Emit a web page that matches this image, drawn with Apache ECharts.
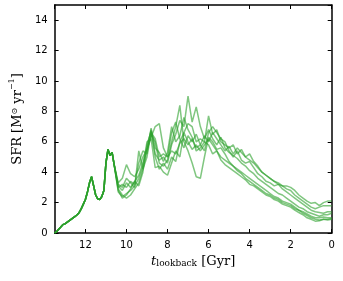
<!DOCTYPE html>
<html><head><meta charset="utf-8">
<script src="https://cdn.jsdelivr.net/npm/echarts@6/dist/echarts.min.js"></script>
<style>html,body{margin:0;padding:0;background:#fff}#c{width:343px;height:281px}</style>
</head><body><div id="c"></div>
<script>
var tEarly = [13.5,13.4,13.3,13.2,13.1,13.0,12.9,12.8,12.7,12.6,12.5,12.4,12.3,12.2,12.1,12.0,11.9,11.8,11.7,11.6,11.5,11.4,11.3,11.2,11.1,11.0,10.9,10.8,10.7,10.6];
var sfrEarly = [0,0.1,0.25,0.4,0.55,0.6,0.7,0.8,0.9,1.0,1.1,1.2,1.35,1.6,1.9,2.2,2.7,3.3,3.7,3.1,2.5,2.25,2.2,2.4,2.8,4.6,5.5,5.1,5.3,4.5];
var tLate = [10.4,10.2,10.0,9.8,9.6,9.4,9.2,9.0,8.8,8.6,8.4,8.2,8.0,7.8,7.6,7.4,7.2,7.0,6.8,6.6,6.4,6.2,6.0,5.8,5.6,5.4,5.2,5.0,4.8,4.6,4.4,4.2,4.0,3.8,3.6,3.4,3.2,3.0,2.8,2.6,2.4,2.2,2.0,1.8,1.6,1.4,1.2,1.0,0.8,0.6,0.4,0.2,0.0];
var sfrA = [3.1,2.8,3.3,3.0,3.4,3.8,4.6,5.6,6.8,5.2,4.8,5.0,4.6,5.8,6.5,7.4,7.0,9.0,7.3,8.3,7.0,6.2,6.8,6.2,5.8,6.3,5.6, 5.3,5.1,4.9,4.6,4.4,4.1,3.9,3.6,3.4,3.2,3.0,2.8,2.6,2.5,2.3,2.1,1.9,1.7,1.6,1.4,1.3,1.2,1.1,1.2,1.2,1.3];
var sfrB = [2.9,2.5,2.3,2.5,2.9,3.3,4.2,5.4,6.5,6.0,4.6,4.4,4.8,6.0,7.0,8.4,6.0,5.4,4.6,3.7,3.6,5.0,6.3,6.0,5.5,5.6,5.2, 4.7,4.4,4.1,3.9,3.6,3.4,3.2,3.0,2.8,2.6,2.5,2.3,2.2,2.0,1.9,1.8,1.6,1.5,1.3,1.15,1.0,0.9,0.85,0.9,0.9,0.95];
var sfrC = [3.3,3.6,4.5,3.9,3.7,4.2,5.0,5.5,6.3,7.0,7.2,5.6,5.0,5.4,5.2,5.9,6.2,5.8,6.2,5.6,5.8,6.4,6.0,6.6,6.2,5.8,5.4, 5.7,5.2,5.6,5.3,5.0,5.2,4.7,4.4,4.0,3.8,3.6,3.4,3.2,3.1,3.1,3.0,2.8,2.5,2.3,2.1,1.95,2.0,1.8,2.0,2.1,2.1];
var sfrD = [3.0,3.2,3.0,3.4,3.2,4.6,5.4,5.2,6.9,5.6,5.3,4.7,5.3,7.0,6.0,6.4,7.6,6.8,6.3,5.4,5.6,6.0,7.7,6.5,6.8,6.0,5.8, 5.6,5.8,5.2,5.5,5.0,4.8,4.6,4.3,4.0,3.8,3.6,3.4,3.3,3.1,2.9,2.8,2.5,2.3,2.1,1.9,1.7,1.6,1.7,1.8,1.8,1.8];
var sfrE = [2.7,2.4,2.6,2.8,3.1,3.6,4.4,6.0,6.2,4.3,4.4,4.0,3.8,4.6,5.4,5.0,6.6,6.0,5.5,5.8,5.4,5.8,6.2,5.8,5.4,5.0,4.8, 4.6,4.4,4.2,4.0,3.8,3.6,3.4,3.2,3.0,2.8,2.6,2.4,2.3,2.1,2.0,1.9,1.7,1.5,1.4,1.25,1.1,1.0,1.0,1.05,1.0,1.0];
var sfrF = [3.2,3.0,3.6,3.3,3.0,5.4,4.2,5.0,6.6,6.2,5.0,5.2,5.0,6.6,7.3,6.2,5.6,6.4,6.0,6.5,5.8,5.4,6.6,7.0,6.6,6.2,6.0, 5.4,5.0,5.4,4.8,4.6,4.7,4.3,3.9,3.7,3.4,3.3,3.1,3.2,2.9,2.7,2.5,2.3,2.1,1.9,1.7,1.5,1.4,1.35,1.3,1.4,1.4];
var sfrG = [2.8,2.3,2.5,2.9,3.4,3.1,4.0,5.8,6.7,5.0,4.2,4.6,4.2,5.0,4.7,6.0,6.6,7.2,7.0,6.0,6.2,6.0,5.8,5.2,5.4,4.8,4.5, 4.3,4.1,3.9,3.7,3.5,3.2,3.1,2.9,2.7,2.5,2.4,2.2,2.1,1.9,1.8,1.7,1.5,1.35,1.2,1.0,0.9,0.78,0.8,0.9,0.85,0.9];
var xTicks = [0,2,4,6,8,10,12];
var yTicks = [0,2,4,6,8,10,12,14];

var lateSets = [sfrA,sfrB,sfrC,sfrD,sfrE,sfrF,sfrG];
function build(late){
  var d = [];
  for (var i=0;i<tEarly.length;i++) d.push([tEarly[i], sfrEarly[i]]);
  for (var j=0;j<tLate.length;j++) d.push([tLate[j], late[j]]);
  return d;
}
var series = lateSets.map(function(s){
  return {type:'line', data:build(s), showSymbol:false, symbol:'none', xAxisIndex:0, yAxisIndex:0,
    lineStyle:{color:'rgba(44,160,44,0.6)', width:1.5}, animation:false};
});
var tickFont = {fontFamily:'DejaVu Sans', fontSize:10, color:'#000'};
var chart = echarts.init(document.getElementById('c'), null, {renderer:'canvas'});
chart.setOption({
  animation:false,
  grid:{left:47.7, right:11.3, top:5, bottom:48, containLabel:false},
  xAxis:[{
    type:'value', inverse:true, min:0, max:13.5, interval:2,
    name:'{t|t}{s|lookback}{n| [Gyr]}', nameLocation:'middle', nameGap:17,
    nameTextStyle:{rich:{
      t:{fontFamily:'DejaVu Serif', fontStyle:'italic', fontSize:13, color:'#000', verticalAlign:'bottom'},
      s:{fontFamily:'DejaVu Serif', fontSize:9, color:'#000', padding:[6,0,0,0], verticalAlign:'bottom'},
      n:{fontFamily:'DejaVu Serif', fontSize:13, color:'#000', verticalAlign:'bottom'}
    }},
    axisLine:{show:true, onZero:false, lineStyle:{color:'#000', width:1.5}},
    axisTick:{show:true, inside:true, length:4, lineStyle:{color:'#000'}},
    axisLabel:Object.assign({margin:7, showMaxLabel:false, formatter:function(v){return xTicks.indexOf(v)>=0?String(v):'';}}, tickFont),
    splitLine:{show:false}
  },{
    type:'value', inverse:true, min:0, max:13.5, interval:2, position:'top',
    axisLine:{show:true, onZero:false, lineStyle:{color:'#000', width:1.5}},
    axisTick:{show:true, inside:true, length:4, lineStyle:{color:'#000'}},
    axisLabel:{show:false}, splitLine:{show:false}
  }],
  yAxis:[{
    type:'value', min:0, max:15, interval:2,
    name:'SFR [M{sub|⊙} yr{sup|−1}]', nameLocation:'middle', nameGap:27,
    nameTextStyle:{fontFamily:'DejaVu Serif', fontSize:13, color:'#000', rich:{
      sub:{fontFamily:'DejaVu Serif', fontSize:8, color:'#000', padding:[0,0,0,0], verticalAlign:'top', lineHeight:8},
      sup:{fontFamily:'DejaVu Serif', fontSize:8, color:'#000', verticalAlign:'bottom', lineHeight:8, padding:[0,0,8,0]}
    }},
    axisLine:{show:true, onZero:false, lineStyle:{color:'#000', width:1.5}},
    axisTick:{show:true, inside:true, length:4, lineStyle:{color:'#000'}},
    axisLabel:Object.assign({margin:7, showMaxLabel:false, formatter:function(v){return yTicks.indexOf(v)>=0?String(v):'';}}, tickFont),
    splitLine:{show:false}
  },{
    type:'value', min:0, max:15, interval:2, position:'right',
    axisLine:{show:true, onZero:false, lineStyle:{color:'#000', width:1.5}},
    axisTick:{show:true, inside:true, length:4, lineStyle:{color:'#000'}},
    axisLabel:{show:false}, splitLine:{show:false}
  }],
  series: series
});
</script></body></html>
